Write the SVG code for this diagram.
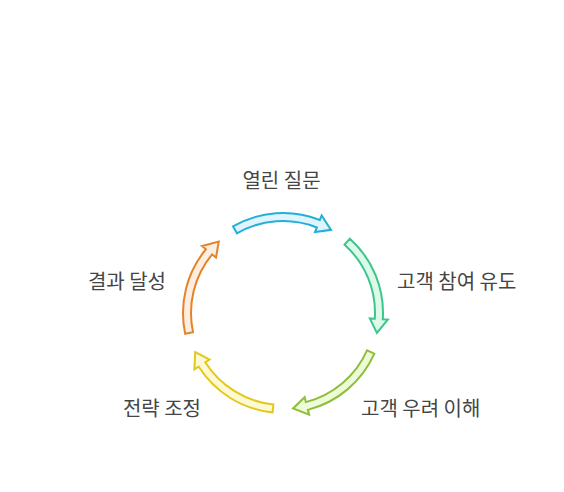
<svg xmlns="http://www.w3.org/2000/svg" width="564" height="492" viewBox="0 0 564 492">
<defs>
<style>
.lbl{font-family:"Noto Sans CJK KR","Noto Sans",sans-serif;font-size:20px;fill:#454545}
.arr{stroke-width:2;stroke-linejoin:miter}
</style>
<path id="arrow" d="M-50,-86.60 A100,100 0 0 1 36.81,-92.98 L38.65,-97.63 L48,-83.14 L32.02,-80.89 L33.87,-85.54 A92,92 0 0 0 -46,-79.67 Z"/>
</defs>
<rect width="564" height="492" fill="#ffffff"/>
<g id="connectors">
<g id="n1-arrow"><use href="#arrow" class="arr" fill="#dff4fb" stroke="#22b0d9" transform="translate(283,313) rotate(0)"/></g>
<g id="n2-arrow"><use href="#arrow" class="arr" fill="#dcf9ea" stroke="#3cc68a" transform="translate(283,313) rotate(72)"/></g>
<g id="n3-arrow"><use href="#arrow" class="arr" fill="#eefbd9" stroke="#8dbf3a" transform="translate(283,313) rotate(144)"/></g>
<g id="n4-arrow"><use href="#arrow" class="arr" fill="#fdf9d2" stroke="#e3c81c" transform="translate(283,313) rotate(216)"/></g>
<g id="n5-arrow"><use href="#arrow" class="arr" fill="#fdeee2" stroke="#e5832b" transform="translate(283,313) rotate(288)"/></g>
</g>
<g id="node1"><text class="lbl" x="281.5" y="188" text-anchor="middle">열린 질문</text></g>
<g id="node2"><text class="lbl" x="397" y="289">고객 참여 유도</text></g>
<g id="node3"><text class="lbl" x="361" y="416">고객 우려 이해</text></g>
<g id="node4"><text class="lbl" x="201" y="416" text-anchor="end">전략 조정</text></g>
<g id="node5"><text class="lbl" x="166" y="289" text-anchor="end">결과 달성</text></g>
</svg>
